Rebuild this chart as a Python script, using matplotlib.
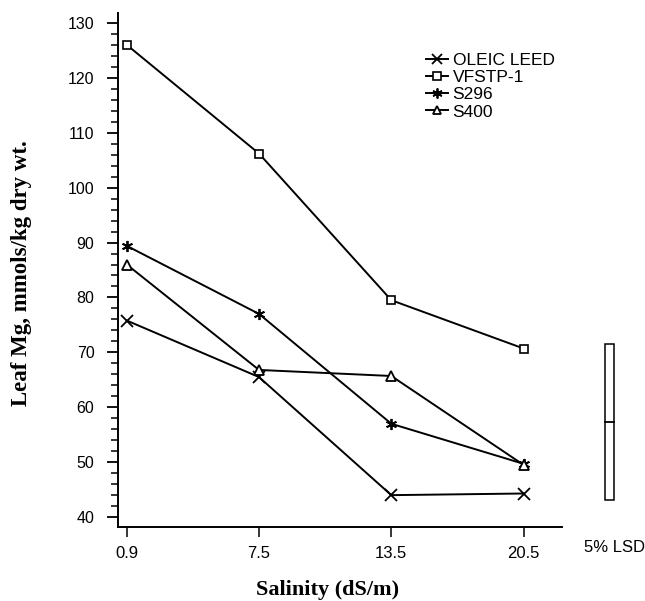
import matplotlib
matplotlib.use("Agg")
import matplotlib.pyplot as plt
from matplotlib.patches import Rectangle
from matplotlib.ticker import MultipleLocator

salinity_labels = ["0.9", "7.5", "13.5", "20.5"]
series_names = ["OLEIC LEED", "VFSTP-1", "S296", "S400"]
oleic_leed = [75.8, 65.5, 44.0, 44.3]
vfstp_1 = [126.0, 106.2, 79.5, 70.7]
s296 = [89.4, 77.0, 57.0, 49.7]
s400 = [86.0, 66.8, 65.7, 49.5]
lsd_center = 57.4
lsd_half = 14.2
y_ticks = [40, 50, 60, 70, 80, 90, 100, 110, 120, 130]

sans = ["Liberation Sans", "DejaVu Sans"]
serif = ["Liberation Serif", "DejaVu Serif"]

fig = plt.figure(figsize=(6.45, 6.01), dpi=100)
ax = fig.add_axes([118/645, 1-527/601, (562-118)/645, (527-13)/601])

xs = list(range(len(salinity_labels)))
styles = [
    dict(marker="x", ms=8, mew=1.3),
    dict(marker="s", ms=6, mfc="white", mew=1.2),
    dict(marker=(6, 2, 0), ms=8, mew=1.3),
    dict(marker="^", ms=6.5, mfc="white", mew=1.3),
]
for name, vals, st in zip(series_names, [oleic_leed, vfstp_1, s296, s400], styles):
    ax.plot(xs, vals, color="black", lw=1.4, label=name, **st)

ax.set_xlim(-0.066, 3.29)
ax.set_ylim(38.2, 131.8)
ax.set_xticks(xs)
ax.set_xticklabels(salinity_labels, family=sans, fontsize=12)
ax.set_yticks(y_ticks)
ax.set_yticklabels([str(t) for t in y_ticks], family=sans, fontsize=11.5)
ax.yaxis.set_minor_locator(MultipleLocator(2))
ax.tick_params(axis="y", which="major", direction="out", length=8, width=1.3, pad=9)
ax.tick_params(axis="y", which="minor", direction="out", length=5, width=1.1)
ax.tick_params(axis="x", which="major", direction="out", length=7, width=1.1, pad=7)
for s in ["top", "right"]:
    ax.spines[s].set_visible(False)
for s in ["left", "bottom"]:
    ax.spines[s].set_linewidth(1.4)

ax.set_xlabel("Salinity (dS/m)", family=serif, fontweight="bold", fontsize=16)
ax.xaxis.set_label_coords((328-118)/444, -(590-527)/514)
ax.set_ylabel("Leaf Mg, mmols/kg dry wt.", family=serif, fontweight="bold", fontsize=16.5)
ax.yaxis.set_label_coords(-(118-22)/444, 1-(273-13)/514)
ax.yaxis.label.set_va("center")
ax.xaxis.label.set_va("center")

# LSD bar
bx0 = 3.613
bw = 0.068
ax.add_patch(Rectangle((bx0, lsd_center - lsd_half), bw, 2 * lsd_half, fill=False,
                       edgecolor="black", lw=1.1, clip_on=False))
ax.plot([bx0, bx0 + bw], [lsd_center, lsd_center], color="black", lw=1.3, clip_on=False)
fig.text(615/645, 1-548/601, "5% LSD", family=sans, fontsize=12, ha="center", va="center")

leg = ax.legend(loc="upper left", bbox_to_anchor=((417-118)/444, 1-(44-13)/514),
                frameon=False, prop={"family": sans, "size": 12.5},
                handlelength=1.3, handletextpad=0.25, labelspacing=0.12, borderpad=0,
                markerscale=0.9)

fig.savefig("out.png", dpi=100)
